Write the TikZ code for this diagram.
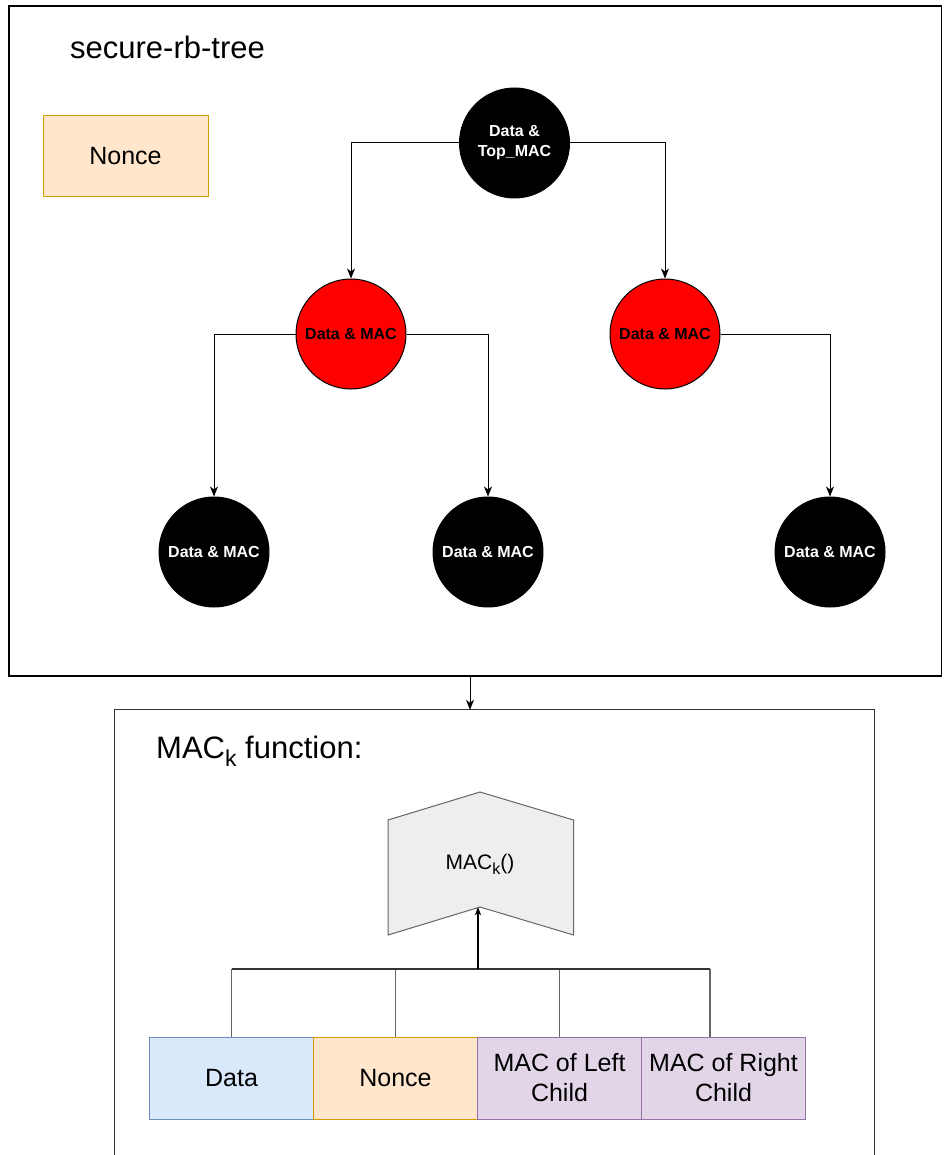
\documentclass[tikz,border=0pt]{standalone}
\usepackage{fontspec}
\setmainfont{Liberation Sans}
\usetikzlibrary{arrows.meta,calc}
\definecolor{dataFill}{HTML}{DAE8FC}
\definecolor{dataLine}{HTML}{6C8EBF}
\definecolor{nonceFill}{HTML}{FFE6CC}
\definecolor{nonceLine}{HTML}{D79B00}
\definecolor{macFill}{HTML}{E1D5E7}
\definecolor{macLine}{HTML}{9673A6}
\definecolor{fnFill}{HTML}{EEEEEE}
\definecolor{fnLine}{HTML}{666666}
\definecolor{frameGray}{HTML}{333333}
\begin{document}
\begin{tikzpicture}[x=1pt,y=-1pt,
  circ/.style={circle,draw=black,line width=1pt,minimum size=110pt,inner sep=0pt,align=center,font=\bfseries\fontsize{16}{20}\selectfont},
  blknode/.style={circ,fill=black,text=white},
  rednode/.style={circ,fill=red,text=black},
  arr/.style={draw=black,line width=1pt,-{Stealth[length=10pt,width=8pt,inset=3pt]}},
  field/.style={rectangle,draw,line width=1pt,minimum width=164pt,minimum height=82pt,inner sep=0pt,align=center,font=\fontsize{25}{30}\selectfont},
  title/.style={inner sep=0pt,font=\fontsize{31}{37}\selectfont},
  busv/.style={draw=fnLine,line width=1.2pt},
  bush/.style={draw=frameGray,line width=1.3pt},
]
\useasboundingbox (0,0) rectangle (943,1155);
\fill[white] (0,0) rectangle (943,1155);

% top frame
\node[draw=black,line width=1.3pt,minimum width=932.5pt,minimum height=670pt,inner sep=0pt] (topframe) at (475.25,341) {};
\node[title,anchor=base west] (ttl) at (70,58.3) {secure-rb-tree};
\node[field,fill=nonceFill,draw=nonceLine,minimum width=165pt,minimum height=81pt] (nonce1) at (125.5,156.5) {Nonce};

% tree
\node[blknode] (root) at (514.5,143) {Data \&\\Top\_MAC};
\node[rednode] (rl) at (351,334) {Data \& MAC};
\node[rednode] (rr) at (665,334) {Data \& MAC};
\node[blknode] (l1) at (214,552) {Data \& MAC};
\node[blknode] (l2) at (488,552) {Data \& MAC};
\node[blknode] (l3) at (830,552) {Data \& MAC};

\draw[arr] (root.west) -| (rl.north);
\draw[arr] (root.east) -| (rr.north);
\draw[arr] (rl.west) -| (l1.north);
\draw[arr] (rl.east) -| (l2.north);
\draw[arr] (rr.east) -| (l3.north);

% bottom frame (cut off by the page)
\node[minimum width=759pt,minimum height=445pt,inner sep=0pt] (fbox) at (494.5,932.5) {};
\draw[draw=frameGray,line width=1.3pt] (fbox.south west) |- (fbox.north east) -- (fbox.south east);
\path ([xshift=-24.5pt]fbox.north) coordinate (fin);
\draw[arr] (topframe.south -| fin) -- (fin);

\node[title,anchor=base west] (ftitle) at (156,758) {MAC\raisebox{-8pt}{\fontsize{23}{27}\selectfont k} function:};

% MAC function shape
\coordinate (ftop) at (480,792);
\coordinate (ftl) at (388,820);
\coordinate (ftr) at (573.5,820);
\coordinate (fbr) at (573.5,935);
\coordinate (notch) at (480,907);
\coordinate (fbl) at (388,935);
\draw[fill=fnFill,draw=fnLine,line width=1pt] (ftop) -- (ftr) -- (fbr) -- (notch) -- (fbl) -- (ftl) -- cycle;
\node[inner sep=0pt,anchor=base,font=\fontsize{21}{25}\selectfont] (fnlabel) at (480,869) {MAC\raisebox{-5pt}{\fontsize{16}{19}\selectfont k}()};

% fields
\node[field,fill=dataFill,draw=dataLine] (data) at (231.5,1078) {Data};
\node[field,fill=nonceFill,draw=nonceLine] (nonce2) at (395.5,1078) {Nonce};
\node[field,fill=macFill,draw=macLine] (macl) at (559.5,1078) {MAC of Left\\Child};
\node[field,fill=macFill,draw=macLine] (macr) at (723.5,1078) {MAC of Right\\Child};

% bus
\coordinate (bus) at (478,969);
\path ([xshift=-13.5pt]macr.north) coordinate (macrtop);
\draw[busv] (data.north) -- (data.north |- bus);
\draw[busv] (nonce2.north) -- (nonce2.north |- bus);
\draw[busv] (macl.north) -- (macl.north |- bus);
\draw[busv] (macrtop) -- (macrtop |- bus);
\draw[bush] (data.north |- bus) -- (macrtop |- bus);
\draw[draw=black,line width=2pt,-{Stealth[length=8pt,width=6pt,inset=2pt]}] (bus) -- (notch -| bus);
\end{tikzpicture}
\end{document}
